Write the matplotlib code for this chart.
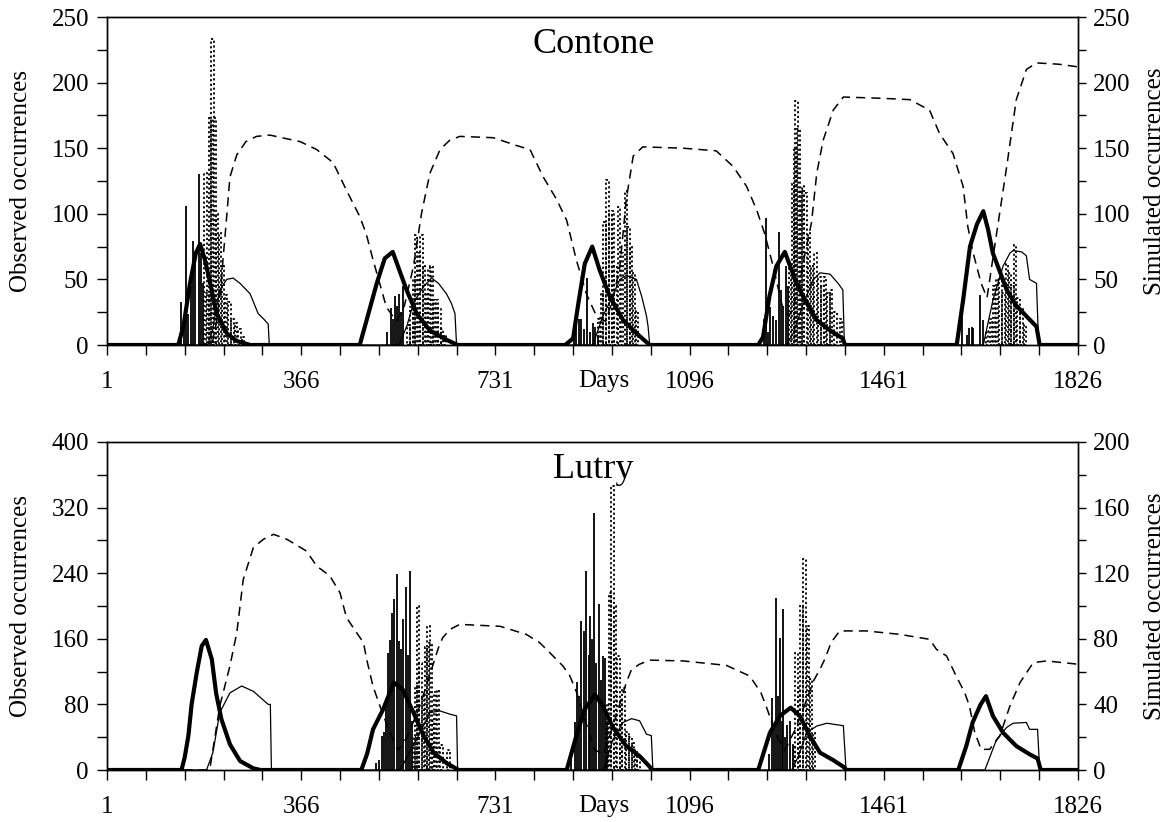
import numpy as np
import matplotlib
matplotlib.use("Agg")
from matplotlib import pyplot as plt

plt.rcParams['font.family'] = ['Liberation Serif', 'DejaVu Serif']

# ---- Contone (top panel) ----
# simulated, right axis
contoneThickDays = [1, 135, 145, 157, 168, 176, 185, 195, 207, 226, 245, 270,
                    476, 489, 508, 523, 538, 564, 583, 608, 639, 660,
                    862, 877, 887, 899, 913, 927, 946, 971, 996, 1021,
                    1225, 1234, 1246, 1259, 1275, 1297, 1316, 1335, 1360, 1384, 1388,
                    1598, 1610, 1623, 1636, 1648, 1657, 1666, 1680, 1692, 1710, 1729, 1748, 1754, 1826]
contoneThickVals = [0, 0, 15, 47, 70, 77, 65, 47, 24, 9, 3, 0,
                    0, 19, 47, 66, 71, 42, 24, 11, 4, 0,
                    0, 5, 32, 62, 75, 57, 37, 19, 9, 0,
                    0, 6, 37, 60, 71, 47, 32, 19, 11, 5, 0,
                    0, 34, 75, 92, 102, 88, 70, 55, 42, 30, 22, 14, 0, 0]

contoneThinDays = [1, 190, 200, 206, 213, 226, 238, 251, 270, 285, 295, 304, 306,
                   550, 565, 577, 595, 611, 624, 639, 648, 655, 658,
                   914, 933, 950, 965, 977, 996, 1006, 1015, 1018, 1021,
                   1278, 1291, 1310, 1329, 1341, 1360, 1375, 1384, 1387,
                   1648, 1666, 1685, 1698, 1704, 1720, 1729, 1735, 1748, 1752, 1826]
contoneThinVals = [0, 0, 12, 28, 42, 50, 51, 47, 39, 24, 20, 16, 0,
                   0, 15, 32, 44, 51, 47, 39, 32, 24, 0,
                   0, 22, 36, 50, 53, 50, 37, 22, 14, 0,
                   0, 9, 32, 50, 55, 54, 47, 42, 0,
                   0, 34, 60, 70, 72, 71, 68, 50, 47, 0, 0]

contoneDashDays = [1, 198, 208, 214, 219, 226, 232, 245, 262, 282, 307, 364, 395, 426, 451, 476, 488,
                   501, 526, 545, 560, 577, 592, 608, 627, 645, 664, 727, 771, 796, 821, 846, 865,
                   883, 902, 921, 938, 952, 965, 977, 990, 1008, 1084, 1146, 1178, 1203, 1222, 1237,
                   1253, 1270, 1283, 1300, 1313, 1325, 1335, 1347, 1366, 1385, 1460, 1510, 1547, 1566,
                   1591, 1610, 1619, 1629, 1644, 1655, 1673, 1692, 1710, 1729, 1748, 1790, 1826]
contoneDashVals = [0, 0, 20, 40, 65, 98, 128, 145, 155, 159, 160, 155, 149, 139, 118, 98, 85,
                   65, 29, 18, 30, 60, 100, 131, 149, 156, 159, 158, 152, 149, 128, 111, 95,
                   65, 39, 22, 18, 35, 60, 111, 144, 151, 150, 148, 136, 121, 103, 85,
                   60, 30, 22, 40, 70, 93, 131, 156, 179, 189, 188, 187, 179, 161,
                   146, 121, 90, 70, 47, 36, 85, 136, 187, 210, 215, 214, 212]

# observed, left axis
contoneObsSolidDays = [141, 145, 149, 153, 158, 163, 167, 173, 177, 182,
                       528, 534, 538, 542, 546, 549, 554, 557,
                       878, 883, 888, 892, 898, 903, 908, 914, 918, 923,
                       1236, 1240, 1244, 1247, 1253, 1258, 1264, 1268, 1272, 1277, 1281,
                       1608, 1618, 1622, 1626, 1629, 1641, 1648]
contoneObsSolidVals = [33, 20, 106, 24, 45, 79, 72, 130, 70, 47,
                       10, 28, 20, 37, 30, 39, 25, 45,
                       5, 20, 20, 20, 12, 51, 10, 17, 14, 8,
                       20, 97, 10, 29, 22, 19, 86, 42, 30, 60, 45,
                       31, 8, 13, 14, 13, 38, 19]

contoneObsDotDays = [186, 190, 195, 199, 203, 208, 213, 219, 225, 231, 237, 244, 250, 257,
                     568, 573, 578, 582, 587, 592, 597, 602, 607, 611, 616, 621, 626, 631, 636,
                     926, 931, 936, 942, 947, 952, 957, 963, 969, 976, 981, 986, 991, 997,
                     1285, 1290, 1294, 1297, 1301, 1305, 1309, 1314, 1320, 1326, 1333, 1340, 1346,
                     1351, 1357, 1362, 1370, 1380,
                     1655, 1662, 1668, 1674, 1680, 1686, 1692, 1698, 1703, 1708, 1714, 1720, 1726]
contoneObsDotVals = [131, 40, 173, 233, 173, 100, 85, 60, 38, 33, 20, 17, 12, 6,
                     15, 29, 50, 84, 70, 84, 60, 40, 59, 60, 34, 34, 28, 12, 8,
                     20, 40, 94, 126, 100, 102, 60, 105, 70, 117, 90, 75, 55, 26,
                     60, 123, 150, 186, 165, 118, 121, 116, 85, 60, 70, 52, 45,
                     52, 40, 42, 25, 20,
                     11, 20, 45, 50, 50, 40, 62, 55, 45, 76, 36, 28, 15]

# ---- Lutry (bottom panel) ----
lutryThickDays = [1, 141, 147, 154, 160, 170, 179, 187, 198, 206, 216, 232, 251, 276, 290,
                  479, 490, 501, 520, 540, 557, 577, 596, 615, 640, 662,
                  865, 883, 899, 918, 933, 952, 977, 1002, 1021, 1025,
                  1225, 1247, 1266, 1286, 1303, 1322, 1341, 1366, 1385, 1391,
                  1601, 1616, 1628, 1643, 1653, 1666, 1685, 1710, 1735, 1750, 1756, 1826]
lutryThickVals = [0, 0, 7.6, 21, 40, 60, 75.6, 79.3, 67.5, 47, 31, 15.7, 5.5, 1, 0,
                  0, 10, 24.8, 37, 53.3, 49, 35, 21, 10.6, 4, 0,
                  0, 20.7, 37, 46, 39, 26, 14.6, 8.5, 2, 0,
                  0, 22.8, 33, 38, 33, 20.7, 10.6, 6, 2, 0,
                  0, 14.6, 29, 40, 45, 33, 22.8, 14.6, 9.6, 7, 0, 0]

lutryThinDays = [1, 188, 200, 213, 232, 254, 276, 304, 308, 310,
                 552, 583, 608, 627, 646, 658, 660,
                 934, 952, 971, 987, 1002, 1015, 1024, 1027,
                 1288, 1300, 1316, 1335, 1354, 1385, 1390,
                 1651, 1673, 1692, 1704, 1729, 1735, 1750, 1754, 1826]
lutryThinVals = [0, 0, 10.6, 35, 47, 51.2, 48, 40, 40, 0,
                 0, 18.7, 35, 36, 34, 33, 0,
                 0, 18.7, 29, 31.3, 30, 21.8, 21, 0,
                 0, 8, 22.8, 26.8, 28.5, 27, 0,
                 0, 18.7, 26, 28.5, 29, 24.8, 24.8, 0, 0]

lutryDashDays = [1, 194, 213, 232, 245, 257, 276, 295, 314, 339, 376, 395, 420, 439, 451, 470, 483,
                 489, 501, 514, 530, 548, 565, 590, 611, 624, 632, 646, 664, 740, 789, 814, 833,
                 858, 871, 884, 900, 918, 935, 955, 977, 987, 1002, 1021, 1084, 1165, 1209, 1230,
                 1242, 1258, 1275, 1295, 1315, 1330, 1341, 1350, 1362, 1378, 1428, 1491, 1547,
                 1560, 1579, 1597, 1613, 1622, 1632, 1644, 1660, 1679, 1698, 1717, 1742, 1767, 1826]
lutryDashVals = [0, 0, 39, 63.4, 83.8, 116, 135.6, 140.7, 143.7, 140.7, 133.5, 124.4, 118.3, 108, 93,
                 83.8, 77.7, 67.5, 51, 39, 25, 12, 20, 40, 61.4, 74.6, 80.7, 85.8, 88.8, 87.6, 82.7,
                 77.7, 71.6, 63.4, 57.3, 47, 30, 12, 10, 30, 53.3, 61.4, 64.5, 67, 66.5, 63.8, 57.3,
                 47.2, 37, 22, 12, 25, 42, 55, 61.4, 67.5, 77.7, 84.8, 84.8, 82.7, 79.7,
                 73.6, 69.5, 57.3, 47.2, 39, 22.8, 12.6, 12.6, 20.7, 39, 53.3, 65.5, 66.5, 64.5]

lutryObsSolidDays = [507, 512, 517, 521, 525, 529, 533, 536, 540, 546, 550, 554, 558, 563, 566, 570, 574,
                     873, 880, 885, 889, 892, 897, 902, 906, 909, 913, 917, 921, 925, 929, 933, 937, 940,
                     1245, 1250, 1254, 1258, 1262, 1266, 1269, 1272, 1276, 1280, 1285, 1290]
lutryObsSolidVals = [9, 12, 41, 46, 82, 143, 159, 192, 208, 239, 157, 147, 184, 223, 140, 243, 60,
                     25, 58, 107, 90, 182, 170, 243, 140, 188, 160, 314, 130, 202, 110, 139, 137, 60,
                     20, 88, 50, 210, 90, 161, 60, 196, 40, 55, 60, 30]

lutryObsDotDays = [578, 582, 586, 590, 595, 600, 605, 609, 614, 618, 623, 630, 643,
                   941, 946, 951, 956, 962, 967, 972, 979, 985, 990, 995, 1000,
                   1292, 1297, 1302, 1306, 1312, 1318, 1324, 1330]
lutryObsDotVals = [40, 102, 200, 130, 90, 150, 176, 155, 60, 95, 98, 30, 25,
                   80, 216, 346, 200, 139, 85, 100, 46, 40, 33, 25, 17,
                   30, 143, 100, 200, 257, 176, 111, 45]

dayTicks = [1, 366, 731, 1096, 1461, 1826]


def plotPanel(ax, title, obsMax, obsStep, simMax, simStep,
              solidDays, solidVals, dotDays, dotVals,
              thickDays, thickVals, thinDays, thinVals, dashDays, dashVals):
    # observed bars on the left axis
    ax.vlines(solidDays, 0, solidVals, colors='black', linewidth=1.3, zorder=2)
    ax.bar(dotDays, dotVals, width=4.5, fill=False, edgecolor='black',
           linewidth=1.3, linestyle=(0, (1.2, 1.4)), zorder=2)
    ax.set_xlim(1, 1826)
    ax.set_ylim(0, obsMax)
    obsTicks = np.arange(0, obsMax + 1, obsStep / 2)
    ax.set_yticks(obsTicks)
    ax.set_yticklabels([str(int(v)) if i % 2 == 0 else '' for i, v in enumerate(obsTicks)])
    xt = np.arange(1, 1827, 73)
    ax.set_xticks(xt)
    ax.set_xticklabels([str(d) if d in dayTicks else '' for d in xt])
    ax.tick_params(axis='both', direction='out', length=7, width=1, labelsize=18)
    ax.tick_params(axis='x', pad=12)
    ax.tick_params(axis='y', pad=6)
    ax.set_ylabel('Observed occurrences', fontsize=18)
    ax.yaxis.set_label_coords(-0.077, 0.5)
    ax.text(935, -0.11, 'Days', transform=ax.get_xaxis_transform(),
            ha='center', va='center', fontsize=18)
    ax.text(915, 0.915, title, transform=ax.get_xaxis_transform(),
            ha='center', va='center', fontsize=26)

    # simulated lines on the right axis
    ax2 = ax.twinx()
    ax2.plot(dashDays, dashVals, color='black', linewidth=1.1, dashes=(6, 4))
    ax2.plot(thinDays, thinVals, color='black', linewidth=0.9)
    ax2.plot(thickDays, thickVals, color='black', linewidth=3.0)
    ax2.set_ylim(0, simMax)
    simTicks = np.arange(0, simMax + 1, simStep / 2)
    ax2.set_yticks(simTicks)
    ax2.set_yticklabels([str(int(v)) if i % 2 == 0 else '' for i, v in enumerate(simTicks)])
    ax2.tick_params(axis='y', direction='out', length=6, width=1, labelsize=18, pad=5)
    ax2.set_ylabel('Simulated occurrences', fontsize=18)
    ax2.yaxis.set_label_coords(1.068, 0.5)
    for a in (ax, ax2):
        for s in a.spines.values():
            s.set_linewidth(1.0)


fig = plt.figure(figsize=(11.76, 8.22), dpi=100)
axTop = fig.add_axes([107 / 1176, 1 - 345 / 822, 971 / 1176, 328 / 822])
axBot = fig.add_axes([107 / 1176, 1 - 770 / 822, 971 / 1176, 328 / 822])

plotPanel(axTop, 'Contone', 250, 50, 250, 50,
          contoneObsSolidDays, contoneObsSolidVals, contoneObsDotDays, contoneObsDotVals,
          contoneThickDays, contoneThickVals, contoneThinDays, contoneThinVals,
          contoneDashDays, contoneDashVals)
plotPanel(axBot, 'Lutry', 400, 80, 200, 40,
          lutryObsSolidDays, lutryObsSolidVals, lutryObsDotDays, lutryObsDotVals,
          lutryThickDays, lutryThickVals, lutryThinDays, lutryThinVals,
          lutryDashDays, lutryDashVals)

fig.savefig('out.png', dpi=100)
